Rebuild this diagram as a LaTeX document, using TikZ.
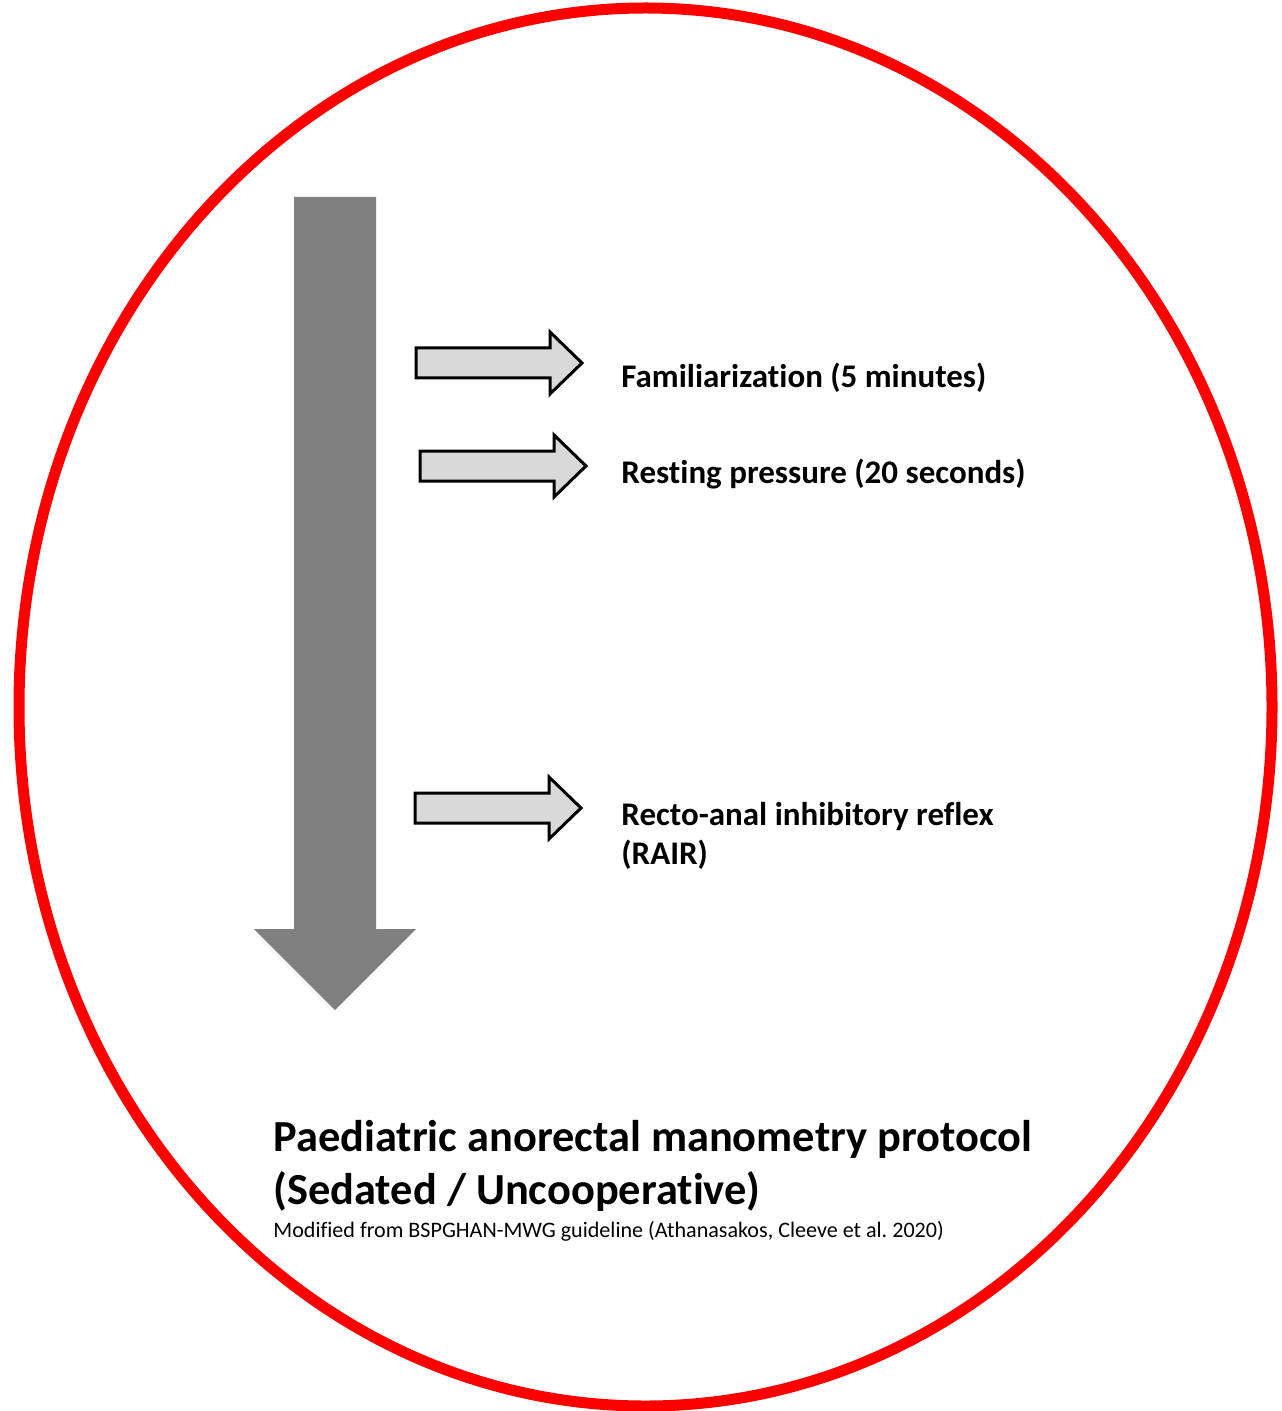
\documentclass[tikz,border=0pt]{standalone}
\usepackage{fontspec}
\setmainfont{Carlito}[Ligatures=NoCommon]
\frenchspacing
\definecolor{barrowgrey}{HTML}{808080}
\definecolor{sarrowgrey}{HTML}{D9D9D9}
\definecolor{framered}{HTML}{FF0000}

\begin{document}
\begin{tikzpicture}[x=0.5pt, y=-0.5pt,
  stage arrow/.style = {draw=black, line width=1.5pt, fill=sarrowgrey, line join=miter},
  stage text/.style = {anchor=base west, inner sep=0pt, align=left,
    font=\bfseries\fontsize{16.5}{19.5}\selectfont},
  title text/.style = {anchor=base west, inner sep=0pt, align=left,
    font=\bfseries\fontsize{22.2}{26.5}\selectfont}]
  \useasboundingbox (0,0) rectangle (1281,1411);
  % outer frame
  \draw[framered, line width=5.5pt] (645.5,707) ellipse [x radius=626.5, y radius=699];
  % time line
  \fill[barrowgrey] (294,197) -- (376,197) -- (376,929) -- (416,929)
    -- (335,1010) -- (254,929) -- (294,929) -- cycle;
  % stage arrows
  \foreach \ax/\ay in {416/363, 420/466, 415/808}
    \draw[stage arrow] (\ax,\ay-15) -- ++(134,0) -- ++(0,-16) -- (\ax+166,\ay)
      -- (\ax+134,\ay+31) -- ++(0,-16) -- (\ax,\ay+15) -- cycle;
  % stages (base = last line)
  \node[stage text] (familiar) at (621,388) {Familiarization (5 minutes)};
  \node[stage text] (resting) at (621,483) {Resting pressure (20 seconds)};
  \node[stage text] (rair) at (621,864) {Recto-anal inhibitory reflex\\(RAIR)};
  % caption
  \node[title text] (title) at (273,1204)
    {Paediatric anorectal manometry protocol\\(Sedated / Uncooperative)};
  \node[anchor=base west, inner sep=0pt, font=\fontsize{11.05}{13}\selectfont]
    (source) at (273,1237)
    {Modified from BSPGHAN-MWG guideline (Athanasakos, Cleeve et al. 2020)};
\end{tikzpicture}
\end{document}
